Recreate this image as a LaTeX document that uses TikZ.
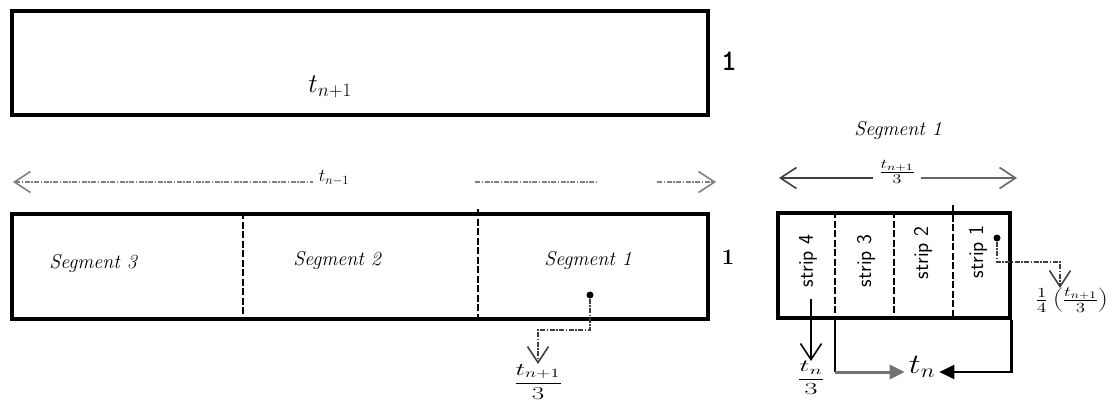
\RequirePackage{fix-cm}
\documentclass[tikz,border=0pt]{standalone}
\usetikzlibrary{arrows.meta}
\begin{document}
\begin{tikzpicture}[x=1pt,y=-1pt,
  box/.style={draw, line width=3.5pt, inner sep=0pt, anchor=north west},
  divider/.style={line width=2.6pt, dash pattern=on 7pt off 2.5pt},
  seglabel/.style={font=\fontsize{20}{22}\selectfont\itshape},
  striplabel/.style={font=\fontsize{21}{23}\selectfont\sffamily, rotate=90},
  dot/.style={circle, fill=black, inner sep=0pt, minimum size=7pt},
  dashconn/.style={line width=1.4pt, draw=black!75, dash pattern=on 5pt off 1.5pt on 1.5pt off 1.5pt},
  topline/.style={line width=2pt, draw=black!50, dash pattern=on 5pt off 1.5pt on 1.5pt off 1.5pt},
  barb/.style={-{Straight Barb[length=16pt,width=21pt,line width=1.6pt]}},
  barbback/.style={{Straight Barb[length=16pt,width=21pt,line width=1.6pt]}-},
  solidconn/.style={line width=1.5pt, draw=black},
  tri/.style={-{Triangle[length=15pt,width=14pt]}}
]
\useasboundingbox (0,0) rectangle (1116,405);

% top box
\node[box, minimum width=696pt, minimum height=104pt] (top) at (10,9) {};
\node[font=\fontsize{27}{29}\selectfont] (tlab) at (330,87) {$t_{n+1}$};
\node[font=\fontsize{30}{32}\selectfont\ttfamily\bfseries] (one1) at (729,61) {1};

% top-left arrow (dash-dot)
\coordinate (la) at (13,182);
\node[font=\fontsize{18}{20}\selectfont, inner xsep=6pt] (tm) at (334,178) {$t_{n-1}$};
\coordinate (sa) at (475,182);
\coordinate (sb) at (598,182);
\coordinate (sc) at (657,182);
\coordinate (ra) at (716,182);
\draw[topline, barbback] (la) -- (tm.west |- la);
\draw[topline] (sa) -- (sb);
\draw[topline, barb] (sc) -- (ra);

% bottom-left box with segments
\node[box, minimum width=696pt, minimum height=105pt] (seg) at (10,212) {};
\coordinate (dv1t) at (243,212); \coordinate (dv1b) at (243,317);
\coordinate (dv2t) at (478,209); \coordinate (dv2b) at (478,317);
\draw[divider] (dv1t) -- (dv1b);
\draw[divider] (dv2t) -- (dv2b);
\node[seglabel] (seg3) at (93,263) {Segment 3};
\node[seglabel] (seg2) at (337,260) {Segment 2};
\node[seglabel] (seg1) at (588,260) {Segment 1};
\node[font=\fontsize{22}{24}\selectfont\bfseries] (one2) at (728,257) {1};

% dot in segment 1 and its connector
\node[dot] (d1) at (590,295) {};
\coordinate (k1) at (538,330);
\node[font=\fontsize{18}{20}\selectfont, anchor=north, inner sep=0pt] (f1) at (538,364) {\scalebox{1.5}[1]{$\displaystyle\frac{t_{n+1}}{3}$}};
\draw[dashconn, barb] (d1.south) |- (k1) -- (f1.north);

% top-right
\node[seglabel] (segr) at (898,130) {Segment 1};
\coordinate (lb) at (779,178);
\coordinate (rb) at (1017,178);
\node[font=\fontsize{19}{21}\selectfont, inner xsep=6pt, inner ysep=0pt] (f4) at (897,172) {\scalebox{1.4}[1]{$\frac{t_{n+1}}{3}$}};
\draw[line width=2pt, draw=black!75, barbback] (lb) -- (f4.west |- lb);
\draw[line width=2pt, draw=black!60, barb] (f4.east |- rb) -- (rb);

% right box with strips
\node[box, minimum width=232pt, minimum height=105pt] (strips) at (776,211) {};
\coordinate (sv1t) at (835,211); \coordinate (sv1b) at (835,316);
\coordinate (sv2t) at (894,211); \coordinate (sv2b) at (894,316);
\coordinate (sv3t) at (953,205); \coordinate (sv3b) at (953,316);
\draw[divider] (sv1t) -- (sv1b);
\draw[divider] (sv2t) -- (sv2b);
\draw[divider] (sv3t) -- (sv3b);
\node[striplabel] (s4) at (808,261) {strip 4};
\node[striplabel] (s3) at (866,261) {strip 3};
\node[striplabel] (s2) at (923,253) {strip 2};
\node[striplabel] (s1) at (978,252) {strip 1};

% dot in strip 1
\node[dot] (d2) at (997,238) {};
\coordinate (k2) at (1060,262);
\node[font=\fontsize{20}{22}\selectfont, anchor=north, inner sep=0pt] (f2) at (1072,288) {\scalebox{1.35}[1]{$\frac{1}{4}\left(\frac{t_{n+1}}{3}\right)$}};
\draw[dashconn, barb] (d2.south) |- (k2) -- (k2 |- f2.north);

% strip 4 down arrow
\node[font=\fontsize{17}{19}\selectfont, anchor=north, inner sep=0pt] (f3) at (811,361) {\scalebox{1.7}[1]{$\displaystyle\frac{t_n}{3}$}};
\coordinate (s4b) at (811,299);
\draw[solidconn, barb] (s4b) -- (f3.north);

% t_n collection
\node[font=\fontsize{28}{30}\selectfont, inner xsep=4pt] (tn) at (922,367) {\scalebox{1.2}[1]{$t_n$}};
\coordinate (c1) at (835,372);
\draw[solidconn] (sv1b) -- (c1);
\draw[line width=3pt, draw=black!55, tri] (c1) -- (tn.west |- c1);
\draw[line width=2.5pt, tri] (strips.south east) |- (tn.east |- c1);
\end{tikzpicture}
\end{document}
